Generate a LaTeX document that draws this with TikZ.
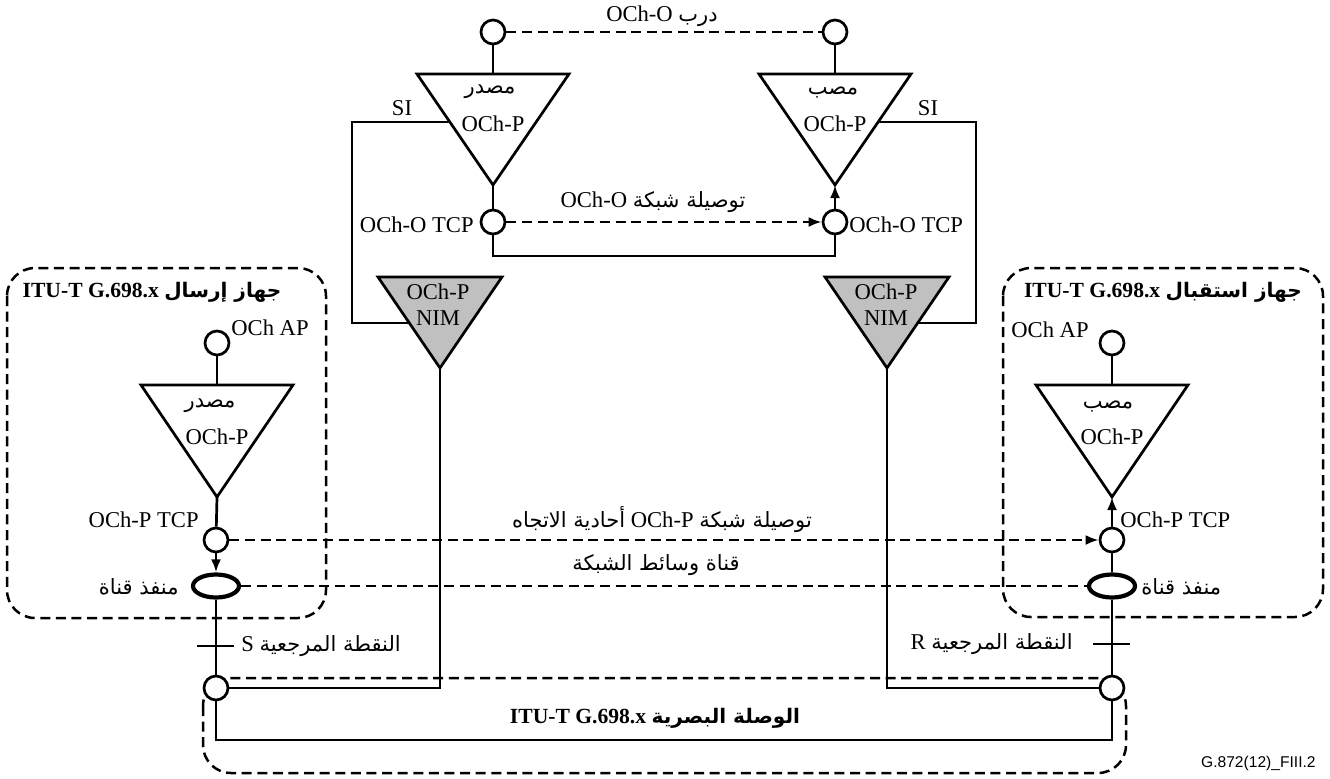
\documentclass[tikz,border=0pt]{standalone}
\usepackage{fontspec}
\setmainfont{Liberation Serif}
\newfontfamily\arabicfont[Script=Arabic,Scale=0.93]{DejaVu Sans}
\newfontfamily\capfont{Liberation Sans}
\TeXXeTstate=1
\usetikzlibrary{arrows.meta,shapes.geometric,calc}
\newcommand{\artxt}[1]{{\arabicfont\beginR #1\endR}}
\definecolor{nimgray}{RGB}{192,192,192}
\newcommand{\drawtri}[6]{% name, cx, ytop, yapex, halfwidth, style
  \coordinate (#1-top) at (#2,#3);
  \coordinate (#1-apex) at (#2,#4);
  \draw[#6] (#2-#5,#3) -- (#2+#5,#3) -- (#1-apex) -- cycle;}
\begin{document}
\begin{tikzpicture}[x=0.5pt,y=-0.5pt,
  font=\fontsize{11.3}{13}\selectfont,
  ln/.style={line width=1.35pt, line join=miter},
  dsh/.style={line width=1.25pt, dash pattern=on 5pt off 2.8pt},
  port/.style={circle, draw, line width=1.35pt, fill=white, minimum size=12pt, inner sep=0pt},
  cport/.style={ellipse, draw, line width=2.1pt, fill=white, minimum width=23pt, minimum height=11.5pt, inner sep=0pt},
  lbl/.style={inner sep=0pt},
  ttl/.style={inner sep=0pt, font=\fontsize{10.8}{13}\selectfont},
  tri/.style={ln, fill=white},
  nim/.style={ln, fill=nimgray},
  arr/.style={-{Latex[length=6.5pt,width=5pt]}},
]
\useasboundingbox (0,0) rectangle (1330,778);

% dashed boxes
\draw[dsh, rounded corners=14pt] (7,268) rectangle (326,618);
\draw[dsh, rounded corners=14pt] (1003,268) rectangle (1323,617);
\draw[dsh, rounded corners=14pt] (203,678) rectangle (1126,773);

% triangles
\drawtri{srcO}{493}{74}{185}{76}{tri}
\drawtri{snkO}{835}{74}{185}{76}{tri}
\drawtri{nimL}{440}{277}{368}{62}{nim}
\drawtri{nimR}{887}{277}{368}{62}{nim}
\drawtri{srcP}{217}{385}{497}{76}{tri}
\drawtri{snkP}{1112}{385}{497}{76}{tri}

% ports
\node[port] (apO1) at (493,32) {};
\node[port] (apO2) at (835,32) {};
\node[port] (tcpO1) at (493,222) {};
\node[port] (tcpO2) at (835,222) {};
\node[port] (apT) at (217,343) {};
\node[port] (apR) at (1112,343) {};
\node[port] (tcpT) at (216,540) {};
\node[port] (tcpR) at (1112,540) {};
\node[cport] (chT) at (216,586) {};
\node[cport] (chR) at (1112,586) {};
\node[port] (fibT) at (216,688) {};
\node[port] (fibR) at (1112,688) {};

% helper coordinates
\coordinate (siL1) at (449,122);
\coordinate (siL2) at (352,122);
\coordinate (siL3) at (352,323);
\coordinate (siL4) at (409,323);
\coordinate (siR1) at (879,122);
\coordinate (siR2) at (976,122);
\coordinate (siR3) at (976,323);
\coordinate (siR4) at (918,323);
\coordinate (loopY) at (493,256);
\coordinate (linkY) at (216,740);
\coordinate (tickS1) at (197,646);
\coordinate (tickS2) at (234,646);
\coordinate (tickR1) at (1093,644);
\coordinate (tickR2) at (1130,644);

% texts in triangles
\node[lbl] (tsrcO) at (490,92) {\artxt{مصدر}};
\node[lbl] (psrcO) at (493,124) {OCh-P};
\node[lbl] (tsnkO) at (833,92) {\artxt{مصب}};
\node[lbl] (psnkO) at (835,124) {OCh-P};
\node[lbl] (nimL1) at (438,292) {OCh-P};
\node[lbl] (nimL2) at (438,318) {NIM};
\node[lbl] (nimR1) at (886,292) {OCh-P};
\node[lbl] (nimR2) at (886,318) {NIM};
\node[lbl] (tsrcP) at (210,406) {\artxt{مصدر}};
\node[lbl] (psrcP) at (217,437) {OCh-P};
\node[lbl] (tsnkP) at (1108,406) {\artxt{مصب}};
\node[lbl] (psnkP) at (1112,437) {OCh-P};

% other labels
\node[lbl] (lpath) at (662,16) {OCh-O \artxt{درب}};
\node[lbl] (lsiL) at (402,108) {SI};
\node[lbl] (lsiR) at (928,108) {SI};
\node[lbl, anchor=east] (ltcpO1) at (474,225) {OCh-O TCP};
\node[lbl, anchor=west] (ltcpO2) at (849,225) {OCh-O TCP};
\node[lbl] (lnetO) at (653,202) {OCh-O \artxt{توصيلة شبكة}};
\node[ttl] (ttlT) at (152,292) {\textbf{ITU-T G.698.x} {\bfseries\artxt{جهاز إرسال}}};
\node[ttl] (ttlR) at (1163,292) {\textbf{ITU-T G.698.x} {\bfseries\artxt{جهاز استقبال}}};
\node[lbl, anchor=west] (lapT) at (231,328) {OCh AP};
\node[lbl, anchor=east] (lapR) at (1089,330) {OCh AP};
\node[lbl, anchor=east] (ltcpT) at (199,520) {OCh-P TCP};
\node[lbl, anchor=west] (ltcpR) at (1120,520) {OCh-P TCP};
\node[lbl, anchor=east] (lchT) at (179,587) {\artxt{منفذ قناة}};
\node[lbl, anchor=west] (lchR) at (1141,587) {\artxt{منفذ قناة}};
\node[lbl, anchor=west] (lrefS) at (241,646) {S \artxt{النقطة المرجعية}};
\node[lbl, anchor=east] (lrefR) at (1073,644) {R \artxt{النقطة المرجعية}};
\node[lbl] (lnetP) at (662,520) {\artxt{أحادية الاتجاه} OCh-P \artxt{توصيلة شبكة}};
\node[lbl] (lmedia) at (656,565) {\artxt{قناة وسائط الشبكة}};
\node[ttl] (llink) at (655,718) {\textbf{ITU-T G.698.x} {\bfseries\artxt{الوصلة البصرية}}};
\node[lbl, anchor=east, font=\capfont\fontsize{7.8}{9}\selectfont] (fig) at (1316,763) {G.872(12)\_FIII.2};

% connectors: OCh-O layer
\draw[dsh] (apO1) -- (apO2);
\draw[ln] (apO1) -- (srcO-top);
\draw[ln] (apO2) -- (snkO-top);
\draw[ln] (srcO-apex) -- (tcpO1);
\draw[ln, arr] (tcpO2) -- (snkO-apex);
\draw[dsh, arr] (tcpO1) -- (tcpO2);
\draw[ln] (tcpO1.south) |- (loopY) -| (tcpO2.south);
\draw[ln] (siL1) -- (siL2) -- (siL3) -- (siL4);
\draw[ln] (siR1) -- (siR2) -- (siR3) -- (siR4);

% NIM taps to fibre
\draw[ln] (nimL-apex) |- (fibT);
\draw[ln] (nimR-apex) |- (fibR);

% transmitter
\draw[ln] (apT) -- (srcP-top);
\draw[ln] (srcP-apex) -- (tcpT);
\draw[ln, arr] (tcpT) -- (chT);
\draw[ln] (chT) -- (fibT);
\draw[ln] (tickS1) -- (tickS2);

% receiver
\draw[ln] (apR) -- (snkP-top);
\draw[ln, arr] (tcpR) -- (snkP-apex);
\draw[ln] (chR) -- (tcpR);
\draw[ln] (fibR) -- (chR);
\draw[ln] (tickR1) -- (tickR2);

% end-to-end
\draw[dsh, arr] (tcpT) -- (tcpR);
\draw[dsh] (chT) -- (chR);
\draw[ln] (fibT.south) |- (linkY) -| (fibR.south);
\end{tikzpicture}
\end{document}
